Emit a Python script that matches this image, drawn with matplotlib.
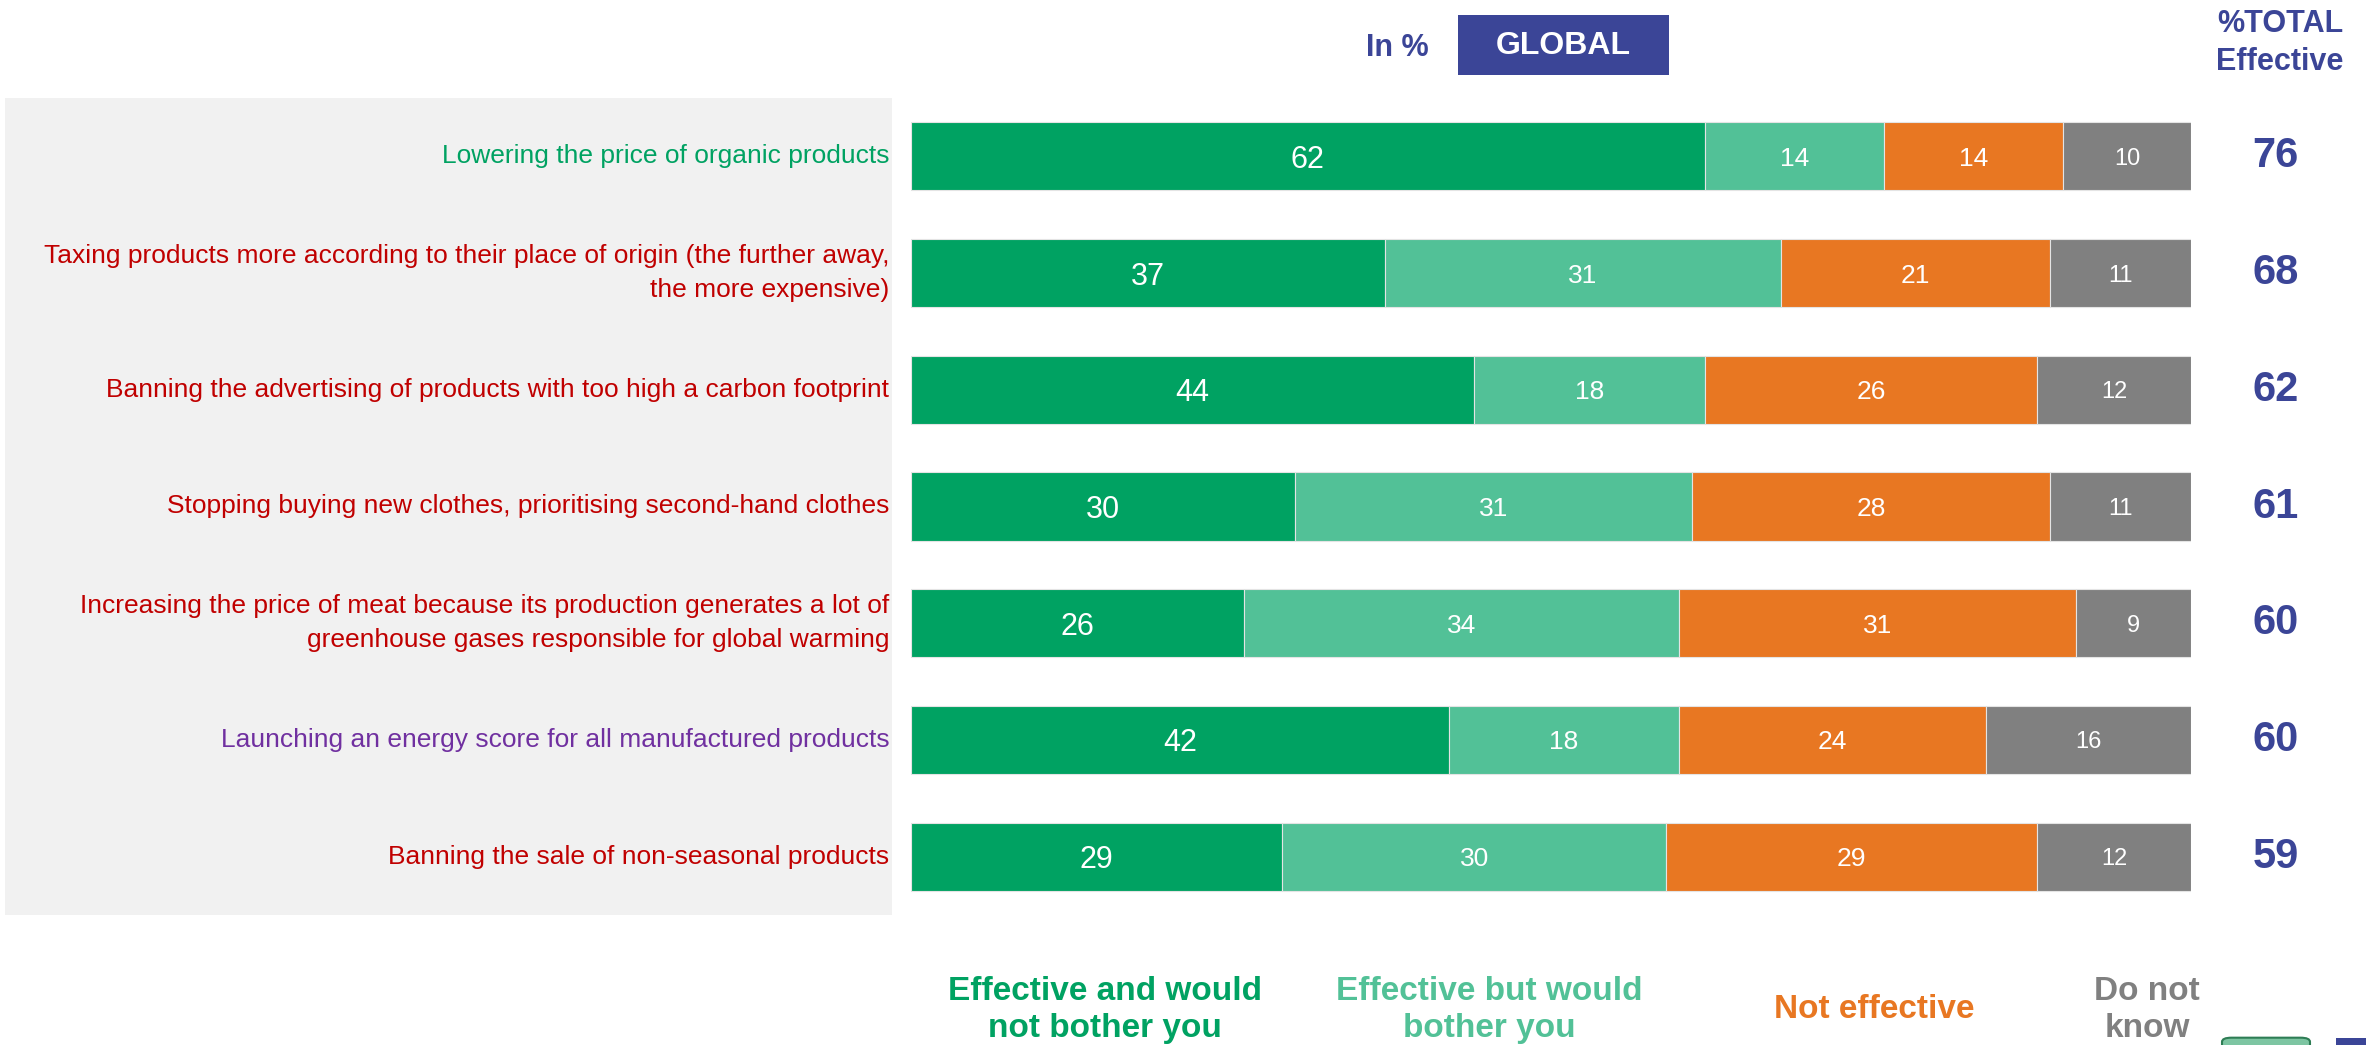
import matplotlib.pyplot as plt
from matplotlib.patches import Rectangle, FancyBboxPatch

# measures and survey shares (%)
measures = [
    "Lowering the price of organic products",
    "Taxing products more according to their place of origin (the further away,\nthe more expensive)",
    "Banning the advertising of products with too high a carbon footprint",
    "Stopping buying new clothes, prioritising second-hand clothes",
    "Increasing the price of meat because its production generates a lot of\ngreenhouse gases responsible for global warming",
    "Launching an energy score for all manufactured products",
    "Banning the sale of non-seasonal products",
]
label_colors = ["#00A262", "#C00000", "#C00000", "#C00000", "#C00000", "#7030A0", "#C00000"]

effective_no_bother = [62, 37, 44, 30, 26, 42, 29]
effective_bother = [14, 31, 18, 31, 34, 18, 30]
not_effective = [14, 21, 26, 28, 31, 24, 29]
dont_know = [10, 11, 12, 11, 9, 16, 12]
total_effective = [76, 68, 62, 61, 60, 60, 59]

series = [effective_no_bother, effective_bother, not_effective, dont_know]
series_names = ["Effective and would\nnot bother you", "Effective but would\nbother you",
                "Not effective", "Do not\nknow"]
series_colors = ["#00A262", "#52C197", "#E87722", "#808080"]
value_sizes = [22, 19, 19, 17]

BLUE = "#3B4597"
W, H = 2366, 1045

plt.rcParams['font.family'] = ['Liberation Sans', 'DejaVu Sans']
fig = plt.figure(figsize=(W / 100, H / 100), dpi=100)

# grey panel behind the measure labels
fig.patches.append(Rectangle((5 / W, 1 - 915 / H), 887 / W, 817 / H,
                             transform=fig.transFigure, facecolor="#F1F1F1", edgecolor="none", zorder=-1))

ax = fig.add_axes([911 / W, 1 - 915 / H, 1280 / W, 817 / H])
ax.set_xlim(0, 100)
ax.set_ylim(6.5, -0.5)
ax.axis("off")

rows = list(range(len(measures)))
left = [0] * len(measures)
for vals, color, size in zip(series, series_colors, value_sizes):
    ax.barh(rows, vals, left=left, height=0.585, color=color, edgecolor="#E4E4E4", linewidth=0.8)
    for r in rows:
        ax.text(left[r] + vals[r] / 2, r, str(vals[r]), ha="center", va="center_baseline",
                color="white", fontsize=size)
    left = [l + v for l, v in zip(left, vals)]

for r in rows:
    ax.text(-1.7, r, measures[r], ha="right", va="center", color=label_colors[r],
            fontsize=19, linespacing=1.5, clip_on=False)
    ax.text(106.6, r, str(total_effective[r]), ha="center", va="center", color=BLUE,
            fontsize=30, fontweight="bold", clip_on=False)

# header
fig.text(1397 / W, 1 - 48 / H, "In %", ha="center", va="center", color=BLUE,
         fontsize=22, fontweight="bold")
fig.patches.append(Rectangle((1458 / W, 1 - 75 / H), 211 / W, 60 / H,
                             transform=fig.transFigure, facecolor=BLUE, edgecolor="none"))
fig.text(1563 / W, 1 - 46 / H, "GLOBAL", ha="center", va="center", color="white",
         fontsize=23, fontweight="bold")
fig.text(2280 / W, 1 - 43 / H, "%TOTAL\nEffective", ha="center", va="center", color=BLUE,
         fontsize=22, fontweight="bold", linespacing=1.35)

# legend texts under the bars
legend_x = [1105, 1489, 1874, 2147]
for name, color, x in zip(series_names, series_colors, legend_x):
    fig.text(x / W, 1 - 1010 / H, name, ha="center", va="center", color=color,
             fontsize=24, fontweight="bold", linespacing=1.25)

# cut-off shapes at the lower right edge
fig.patches.append(FancyBboxPatch((2222 / W, -0.02), 88 / W, 0.027, boxstyle="round,pad=0,rounding_size=0.004",
                                  transform=fig.transFigure, facecolor="#7DC5A2", edgecolor="#2E7D55",
                                  linewidth=1.5))
fig.patches.append(Rectangle((2336 / W, -0.02), 40 / W, 0.027, transform=fig.transFigure,
                             facecolor=BLUE, edgecolor="none"))

fig.savefig("out.png", dpi=100)
